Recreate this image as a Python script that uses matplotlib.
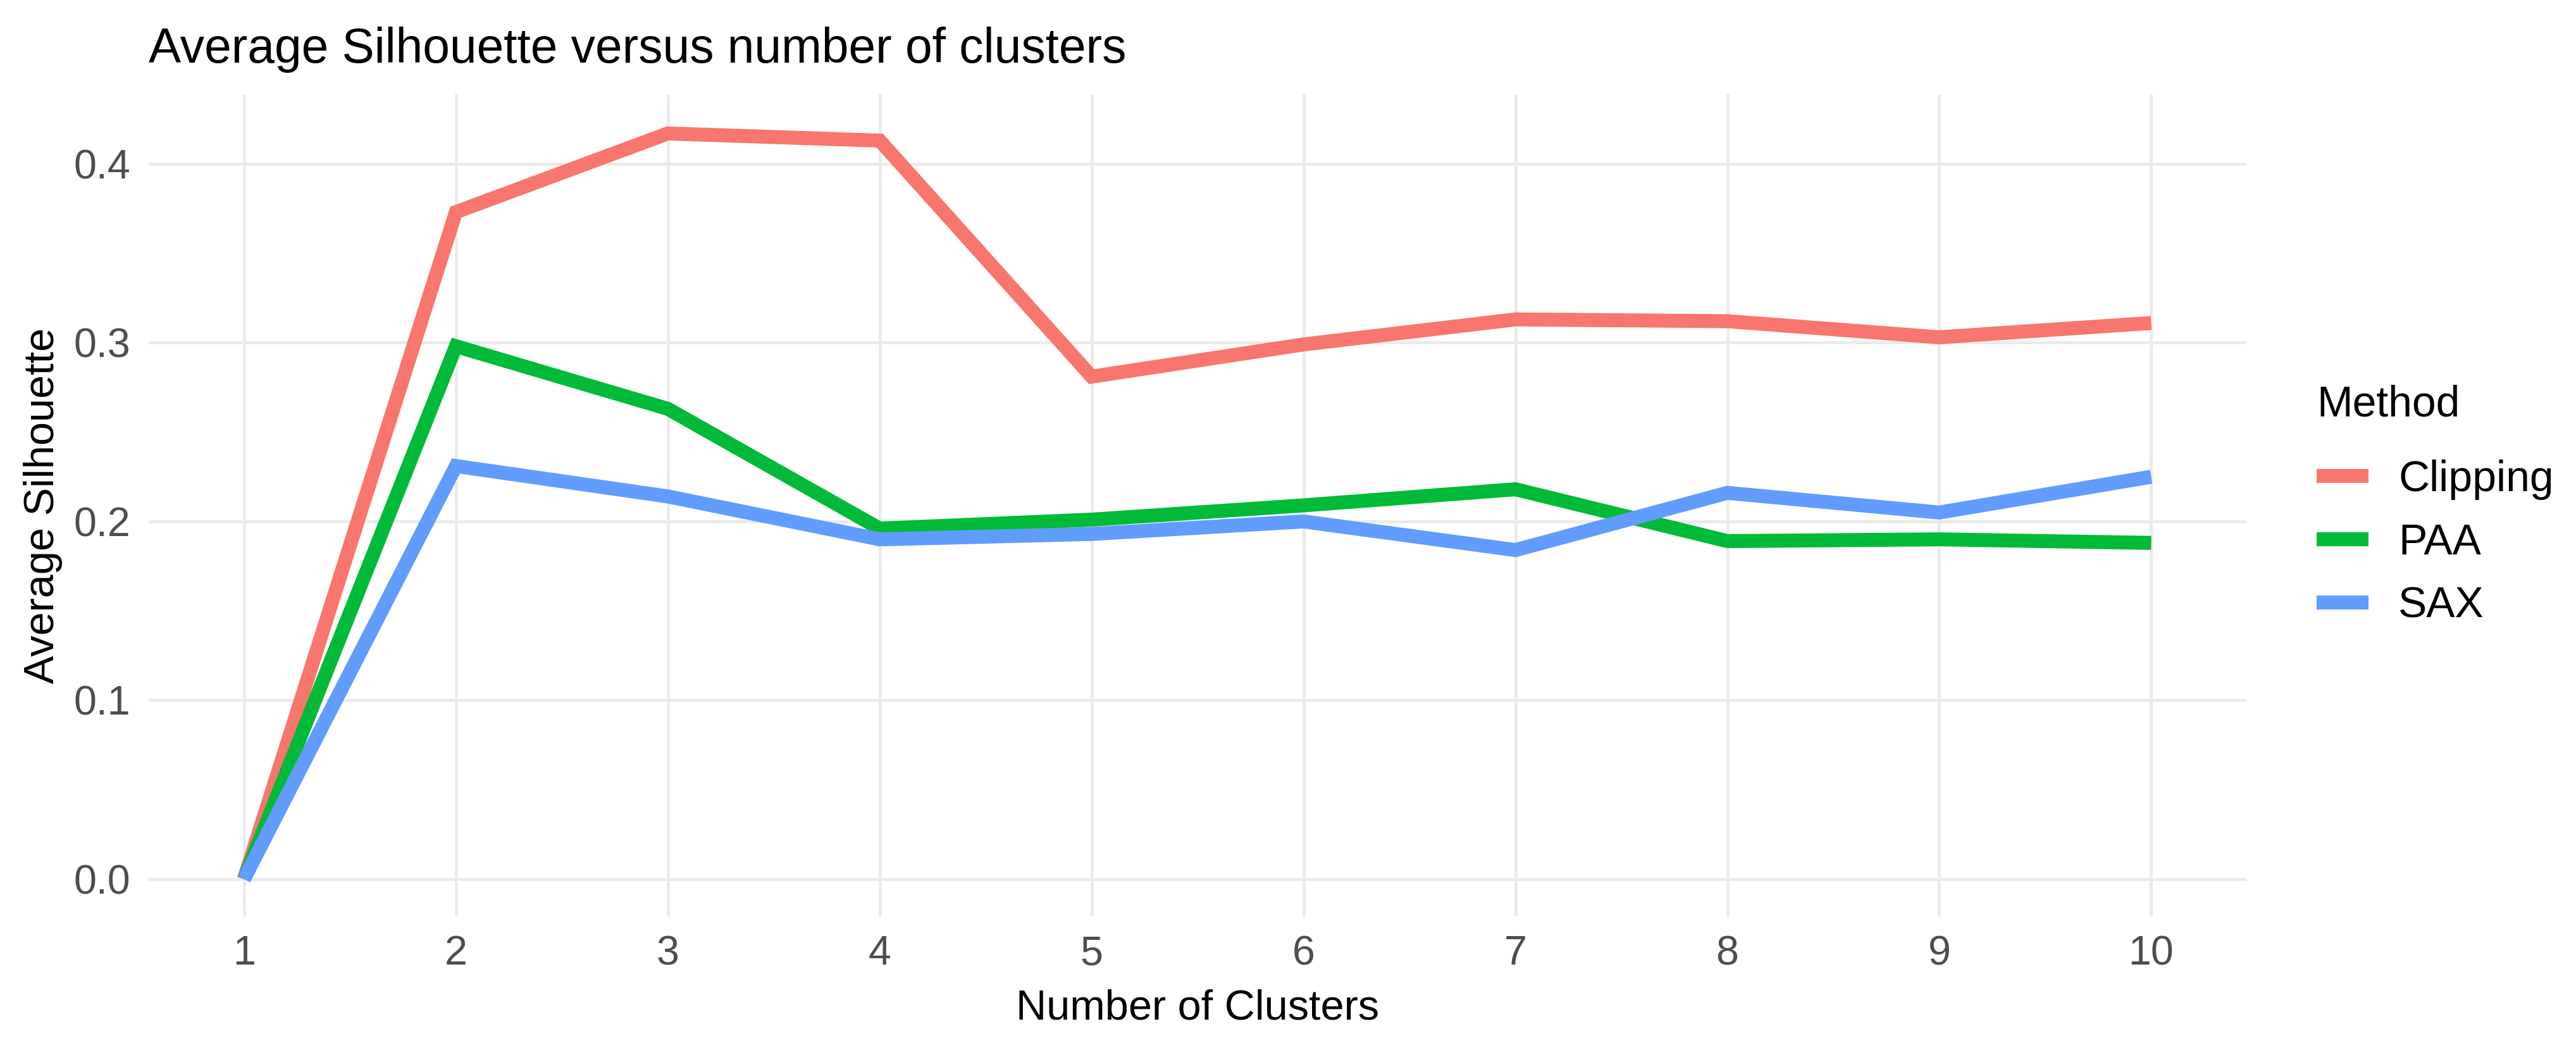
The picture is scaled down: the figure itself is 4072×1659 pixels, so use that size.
import matplotlib
matplotlib.use("Agg")
import matplotlib.pyplot as plt

# Datos
clusters = [1, 2, 3, 4, 5, 6, 7, 8, 9, 10]
clipping = [0.0, 0.373, 0.417, 0.413, 0.281, 0.299, 0.313, 0.312, 0.303, 0.311]
paa = [0.0, 0.298, 0.263, 0.196, 0.201, 0.209, 0.218, 0.189, 0.190, 0.188]
sax = [0.0, 0.231, 0.214, 0.190, 0.193, 0.200, 0.184, 0.216, 0.205, 0.225]
methods = ["Clipping", "PAA", "SAX"]
colors = ["#F8766D", "#00BA38", "#619CFF"]

plt.rcParams["font.family"] = ["Liberation Sans", "DejaVu Sans"]

fig = plt.figure(figsize=(4072 / 300, 1659 / 300), dpi=300)
ax = fig.add_axes([0.0577, 0.1272, 0.8144, 0.783])

for name, vals, col in zip(methods, [clipping, paa, sax], colors):
    ax.plot(clusters, vals, color=col, lw=5.3, label=name, solid_capstyle="butt",
            solid_joinstyle="miter", zorder=3)

ax.set_xlim(0.55, 10.45)
ax.set_ylim(-0.0209, 0.4389)
ax.set_xticks(clusters)
ax.set_yticks([0.0, 0.1, 0.2, 0.3, 0.4])
ax.set_yticklabels(["0.0", "0.1", "0.2", "0.3", "0.4"])
ax.grid(True, color="#EBEBEB", lw=1.2, zorder=0)
for s in ax.spines.values():
    s.set_visible(False)
ax.tick_params(length=0, labelsize=15.5, labelcolor="#4D4D4D", pad=7)

ax.set_xlabel("Number of Clusters", fontsize=16, labelpad=6)
ax.set_ylabel("Average Silhouette", fontsize=16, labelpad=4)
ax.set_title("Average Silhouette versus number of clusters", fontsize=18.4,
             loc="left", pad=12)

leg = ax.legend(title="Method", loc="center left", bbox_to_anchor=(1.015, 0.5),
                frameon=False, fontsize=16.3, title_fontsize=16.3,
                handlelength=1.2, handletextpad=0.7, labelspacing=0.53,
                alignment="left")
# un poco más de aire entre el título de la leyenda y las entradas
leg._legend_box.sep = 0.8 * 16.3

fig.savefig("out.png", dpi=300, facecolor="white")
